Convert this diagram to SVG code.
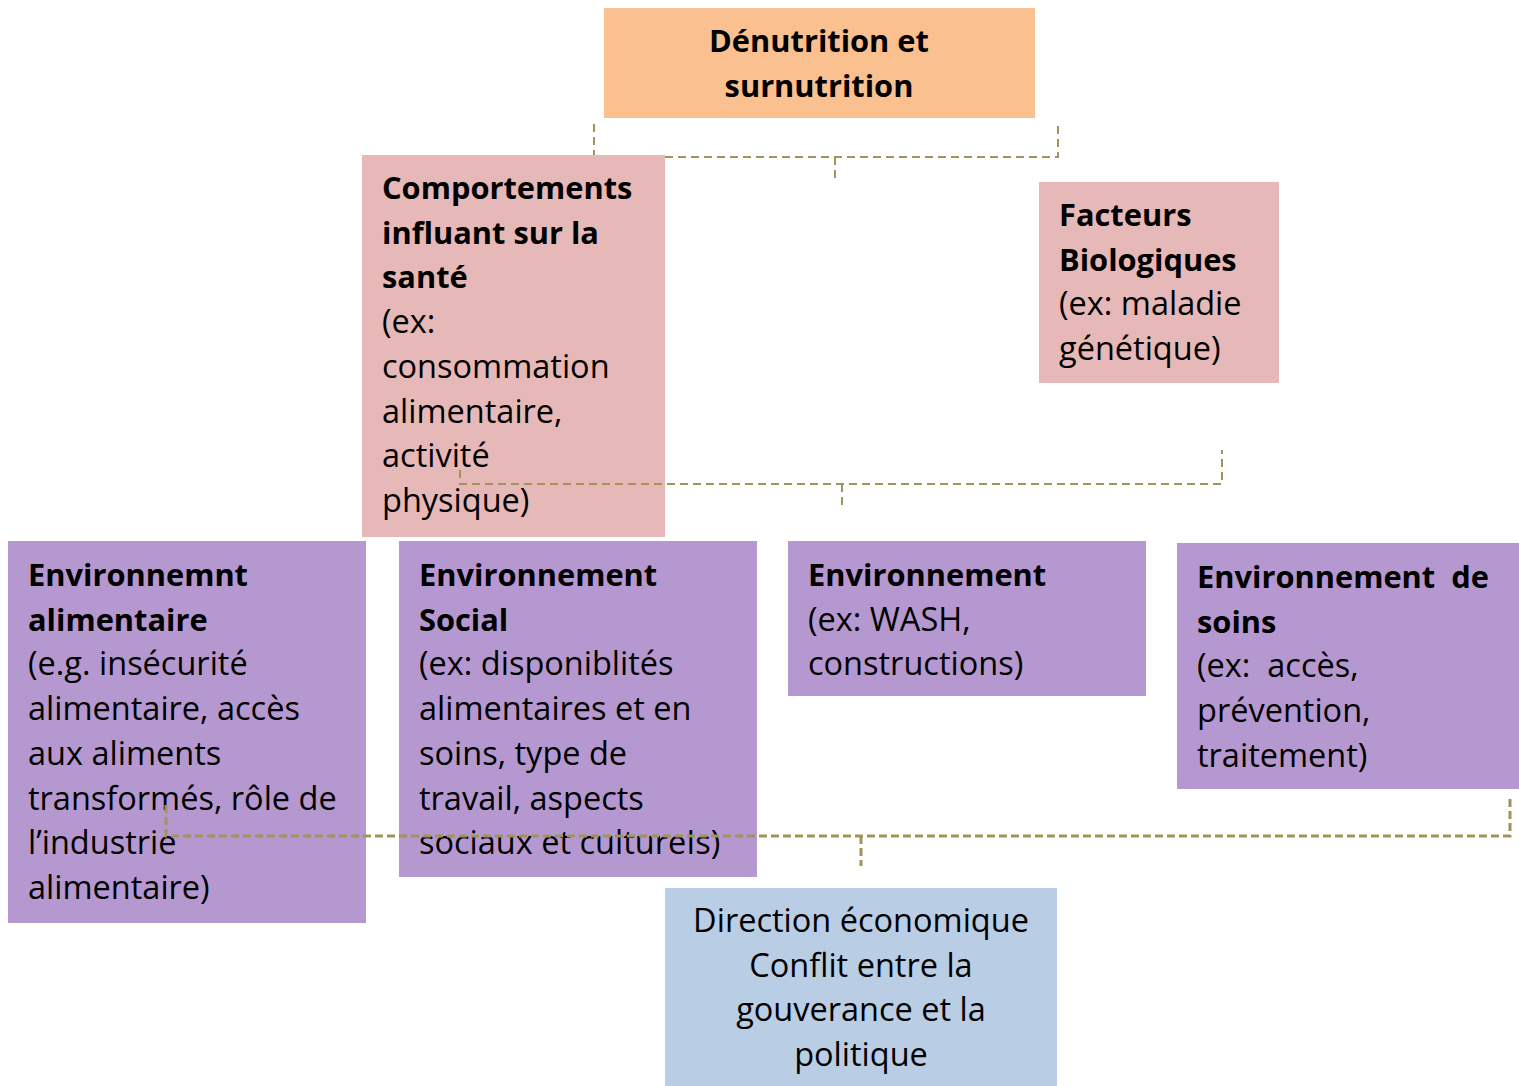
<svg xmlns="http://www.w3.org/2000/svg" width="1519" height="1086" viewBox="0 0 1519 1086">
<style>
text{font-family:"Open Sans","Liberation Sans",sans-serif;font-size:32.5px;fill:#000}
.b{font-weight:bold;font-size:30.8px}
.c{text-anchor:middle}
.con{fill:none;stroke:#A09458;stroke-width:2;stroke-dasharray:8 5}
.con2{fill:none;stroke:#A09458;stroke-width:3;stroke-dasharray:8 4}
</style>
<rect width="1519" height="1086" fill="#fff"/>
<g id="connectors-top">
<path class="con" d="M594,124 V155 M665,157 H1058 V124 M835,157 V180"/>
</g>
<g id="n-denutrition">
<rect x="604" y="8" width="431" height="110" fill="#FAC090"/>
<text class="b c" x="819" y="52">Dénutrition et<tspan x="819" dy="45">surnutrition</tspan></text>
</g>
<g id="n-comportements">
<rect x="362" y="155" width="303" height="382" fill="#E6B8B7"/>
<text x="382" y="199"><tspan class="b">Comportements</tspan><tspan class="b" x="382" dy="44.7">influant sur la</tspan><tspan class="b" x="382" dy="44.7">santé</tspan><tspan x="382" dy="44.7">(ex:</tspan><tspan x="382" dy="44.7">consommation</tspan><tspan x="382" dy="44.7">alimentaire,</tspan><tspan x="382" dy="44.7">activité</tspan><tspan x="382" dy="44.7">physique)</tspan></text>
</g>
<g id="n-facteurs">
<rect x="1039" y="182" width="240" height="201" fill="#E6B8B7"/>
<text x="1059" y="226"><tspan class="b">Facteurs</tspan><tspan class="b" x="1059" dy="44.7">Biologiques</tspan><tspan x="1059" dy="44.7">(ex: maladie</tspan><tspan x="1059" dy="44.7">génétique)</tspan></text>
</g>
<g id="n-env-alimentaire">
<rect x="8" y="541" width="358" height="382" fill="#B598D0"/>
<text x="28" y="586"><tspan class="b">Environnemnt</tspan><tspan class="b" x="28" dy="44.7">alimentaire</tspan><tspan x="28" dy="44.7">(e.g. insécurité</tspan><tspan x="28" dy="44.7">alimentaire, accès</tspan><tspan x="28" dy="44.7">aux aliments</tspan><tspan x="28" dy="44.7">transformés, rôle de</tspan><tspan x="28" dy="44.7">l’industrie</tspan><tspan x="28" dy="44.7">alimentaire)</tspan></text>
</g>
<g id="n-env-social">
<rect x="399" y="541" width="358" height="336" fill="#B598D0"/>
<text x="419" y="586"><tspan class="b">Environnement</tspan><tspan class="b" x="419" dy="44.7">Social</tspan><tspan x="419" dy="44.7">(ex: disponiblités</tspan><tspan x="419" dy="44.7">alimentaires et en</tspan><tspan x="419" dy="44.7">soins, type de</tspan><tspan x="419" dy="44.7">travail, aspects</tspan><tspan x="419" dy="44.7">sociaux et cultureIs)</tspan></text>
</g>
<g id="n-environnement">
<rect x="788" y="541" width="358" height="155" fill="#B598D0"/>
<text x="808" y="586"><tspan class="b">Environnement</tspan><tspan x="808" dy="44.7">(ex: WASH,</tspan><tspan x="808" dy="44.7">constructions)</tspan></text>
</g>
<g id="n-env-soins">
<rect x="1177" y="543" width="342" height="246" fill="#B598D0"/>
<text x="1197" y="588"><tspan class="b" xml:space="preserve">Environnement  de</tspan><tspan class="b" x="1197" dy="44.7">soins</tspan><tspan x="1197" dy="44.7" xml:space="preserve">(ex:  accès,</tspan><tspan x="1197" dy="44.7">prévention,</tspan><tspan x="1197" dy="44.7">traitement)</tspan></text>
</g>
<g id="n-direction">
<rect x="665" y="888" width="392" height="198" fill="#B9CDE5"/>
<text class="c" x="861" y="932">Direction économique<tspan x="861" dy="44.7">Conflit entre la</tspan><tspan x="861" dy="44.7">gouverance et la</tspan><tspan x="861" dy="44.7">politique</tspan></text>
</g>
<g id="connectors">
<path class="con" d="M460,470 V484 H1222 V450 M842,484 V505"/>
<path class="con2" d="M166,805 V836 H1510 V795 M861,836 V866"/>
</g>
</svg>
